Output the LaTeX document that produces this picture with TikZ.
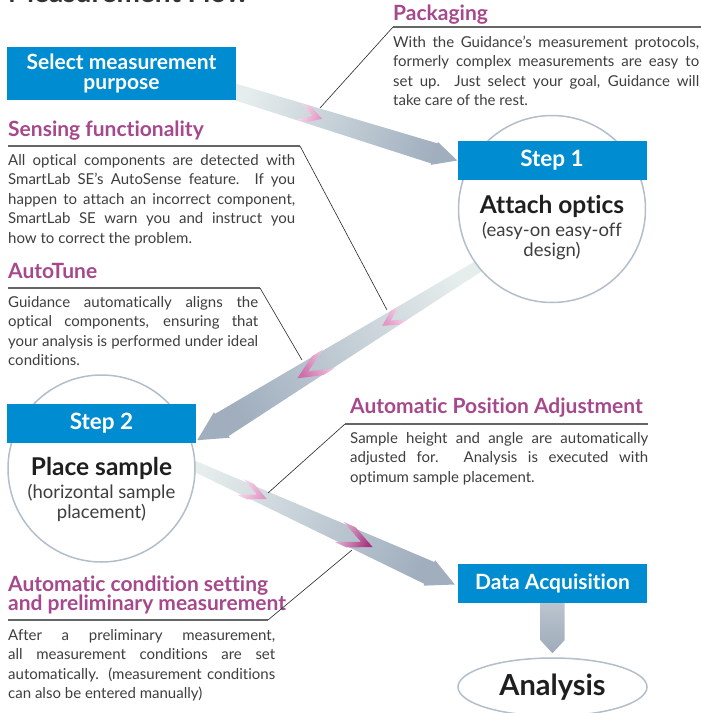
\documentclass[tikz,border=0pt]{standalone}
\usepackage{fontspec}
\setmainfont{Lato}[Ligatures={NoCommon}]
\usetikzlibrary{calc,backgrounds,shapes.geometric}
\tolerance=10000
\hyphenpenalty=10000
\definecolor{stepblue}{RGB}{0,140,208}
\definecolor{headpink}{RGB}{166,72,140}
\definecolor{bodygray}{RGB}{62,62,62}
\definecolor{ringgray}{RGB}{178,190,202}
\definecolor{bandlight}{RGB}{230,237,237}
\definecolor{banddark}{RGB}{160,174,190}
\definecolor{droptop}{RGB}{190,199,208}
\definecolor{dropbot}{RGB}{158,171,186}
\definecolor{chevsoft}{RGB}{226,150,196}
\definecolor{chevmid}{RGB}{205,110,170}
\definecolor{chevdeep}{RGB}{168,52,128}
\tikzset{
	bluebox/.style={fill=stepblue,text=white,font=\bfseries\fontsize{21}{20}\selectfont,align=center,inner sep=0pt},
	stepbox/.style={bluebox,minimum width=189pt,minimum height=39pt,font=\bfseries\fontsize{22.5}{24}\selectfont},
	ring/.style={circle,draw=ringgray,line width=1.5pt,fill=white,minimum size=187pt,inner sep=0pt},
	goal/.style={ellipse,draw=ringgray,line width=1.5pt,fill=white,minimum width=189pt,minimum height=58pt,inner sep=0pt,text=black!88,font=\bfseries\fontsize{29}{30}\selectfont},
	steptitle/.style={font=\bfseries\fontsize{24.5}{26}\selectfont,text=black!88,inner sep=0pt,anchor=base},
	stepnote/.style={font=\fontsize{18.5}{19.5}\selectfont,text=bodygray,inner sep=0pt,anchor=north,align=center},
	head/.style={text=headpink,font=\bfseries\fontsize{21}{19.5}\selectfont,inner sep=0pt,anchor=base west,align=left},
	body/.style={text=bodygray,font=\fontsize{15}{19.5}\selectfont,inner sep=0pt,anchor=north west,align=justify},
	rule/.style={draw=black!60,line width=1.3pt},
	leader/.style={draw=black!85,line width=0.6pt}
}
\newcommand{\flowband}[8]{%
	\pgfmathanglebetweenpoints{\pgfpointanchor{#1}{center}}{\pgfpointanchor{#2}{center}}%
	\pgfmathsetmacro{\bandang}{\pgfmathresult+90}%
	\shade[left color=#7,right color=#8,shading angle=\bandang]
		($(#1)!#3!90:(#2)$) -- ($(#2)!#5!(#1)!#4!-90:(#1)$) -- ($(#2)!#5!(#1)!#6!-90:(#1)$) -- (#2)
		-- ($(#2)!#5!(#1)!#6!90:(#1)$) -- ($(#2)!#5!(#1)!#4!90:(#1)$) -- ($(#1)!#3!-90:(#2)$) -- cycle;
}
\newcommand{\chev}[7]{%
	\pgfmathanglebetweenpoints{\pgfpointanchor{#2}{center}}{\pgfpointanchor{#3}{center}}%
	\pgfmathsetmacro{\chevang}{\pgfmathresult}%
	\pgfmathsetmacro{\chevshade}{\chevang+90}%
	\shade[left color=#7!30!white,right color=#7,shading angle=\chevshade,shift={(#1)},rotate=\chevang]
		(0,0) -- (-#4,#5) -- (-#4-#6,#5) -- (-#6,0) -- (-#4-#6,-#5) -- (-#4,-#5) -- cycle;
}

\begin{document}
\begin{tikzpicture}[x=1pt,y=-1pt]
	\useasboundingbox (0,0) rectangle (701,713);
	\node[anchor=base west,inner sep=0pt,text=black!80,font=\bfseries\fontsize{28}{30}\selectfont] (title) at (8,2.5) {Measurement Flow};

	\node[bluebox,minimum width=229pt,minimum height=53pt] (purpose) at (121.5,73.5) {Select measurement\\purpose};

	\node[ring] (step1) at (552,209) {};
	\node[stepbox] (step1box) at (552,160.5) {Step 1};
	\node[steptitle] (step1t) at (552,213) {Attach optics};
	\node[stepnote] (step1n) at (552,222) {(easy-on easy-off\\design)};

	\node[ring] (step2) at (101.5,468.5) {};
	\node[stepbox] (step2box) at (101.5,423.5) {Step 2};
	\node[steptitle] (step2t) at (101.5,475) {Place sample};
	\node[stepnote] (step2n) at (101.5,484) {(horizontal sample\\placement)};

	\node[bluebox,minimum width=189pt,minimum height=39pt] (acq) at (552.5,583.5) {Data Acquisition};
	\node[goal] (ana) at (552.5,687) {Analysis};

	\coordinate (b1s) at (226,89);
	\coordinate (b1t) at (step1box.west);
	\coordinate (b2s) at (495,256);
	\coordinate (b2t) at ($(step2box.south east)+(1,-3)$);
	\coordinate (b3s) at (170,455);
	\coordinate (b3t) at ($(acq.west)+(-3,1)$);
	\coordinate (b4s) at ($(acq.south)+(0,-5)$);
	\coordinate (b4t) at ($(ana.north)+(0,-4)$);

	\coordinate (c1) at ($(b1s)!0.416!(b1t)$);
	\coordinate (c2) at ($(b2s)!0.379!(b2t)$);
	\coordinate (c3) at ($(b2s)!0.664!(b2t)$);
	\coordinate (c4) at ($(b3s)!0.340!(b3t)$);
	\coordinate (c5) at ($(b3s)!0.712!(b3t)$);

	\begin{pgfonlayer}{background}
		\flowband{b1s}{b1t}{8pt}{10.5pt}{24pt}{12pt}{bandlight}{banddark}
		\flowband{b2s}{b2t}{5.5pt}{13pt}{29pt}{15pt}{bandlight}{banddark}
		\flowband{b3s}{b3t}{4.5pt}{12pt}{28pt}{14pt}{bandlight}{banddark}
		\flowband{b4s}{b4t}{12pt}{12pt}{13pt}{12pt}{droptop}{dropbot}
		\chev{c1}{b1s}{b1t}{14}{8}{10}{chevsoft}
		\chev{c2}{b2s}{b2t}{15}{8}{10}{chevsoft}
		\chev{c3}{b2s}{b2t}{24}{11}{13}{chevmid}
		\chev{c4}{b3s}{b3t}{18}{8.5}{11}{chevsoft}
		\chev{c5}{b3s}{b3t}{24}{11}{13}{chevdeep}
	\end{pgfonlayer}

	\node[head] (pack) at (393,20) {Packaging};
	\node[body,text width=306pt] (packtxt) at (393,33.4) {\strut With the Guidance's measurement protocols,\linebreak formerly complex measurements are easy to\linebreak set up.  Just select your goal, Guidance will\linebreak take care of the rest.};
	\coordinate (packl) at (393,27);
	\coordinate (packr) at (701,27);
	\coordinate (packe) at (320,108);
	\draw[rule] (packl) -- (packr);
	\draw[leader] (packl) -- (packe);

	\node[head] (sens) at (8,136) {Sensing functionality};
	\node[body,text width=287pt] (senstxt) at (8,151.4) {\strut All optical components are detected with\linebreak SmartLab SE's AutoSense feature.  If you\linebreak happen to attach an incorrect component,\linebreak SmartLab SE warn you and instruct you\linebreak how to correct the problem.};
	\coordinate (sensl) at (8,146);
	\coordinate (sensr) at (300,146);
	\coordinate (sense) at (387,310);
	\draw[rule] (sensl) -- (sensr);
	\draw[leader] (sensr) -- (sense);

	\node[head] (tune) at (8,278) {AutoTune};
	\node[body,text width=250pt] (tunetxt) at (8,293.4) {\strut Guidance automatically aligns the\linebreak optical components, ensuring that\linebreak your analysis is performed under ideal\linebreak conditions.};
	\coordinate (tunel) at (8,288);
	\coordinate (tuner) at (260,288);
	\coordinate (tunee) at (302,360);
	\draw[rule] (tunel) -- (tuner);
	\draw[leader] (tuner) -- (tunee);

	\node[head] (posadj) at (350,413) {Automatic Position Adjustment};
	\node[body,text width=298pt] (posadjtxt) at (350,429.4) {\strut Sample height and angle are automatically\linebreak adjusted for.  Analysis is executed with\linebreak optimum sample placement.};
	\coordinate (posadjl) at (345,424);
	\coordinate (posadjr) at (648,424);
	\coordinate (posadje) at (268,493);
	\draw[rule] (posadjl) -- (posadjr);
	\draw[leader] (posadjl) -- (posadje);

	\node[head,anchor=north west] (cond) at (8,575.5) {Automatic condition setting\\and preliminary measurement};
	\node[body,text width=267pt] (condtxt) at (8,626.4) {\strut After a preliminary measurement,\linebreak all measurement conditions are set\linebreak automatically. (measurement conditions\linebreak can also be entered manually)};
	\coordinate (condl) at (8,620);
	\coordinate (condr) at (268,620);
	\coordinate (conde) at (352,550);
	\draw[rule] (condl) -- (condr);
	\draw[leader] (condr) -- (conde);
\end{tikzpicture}
\end{document}
